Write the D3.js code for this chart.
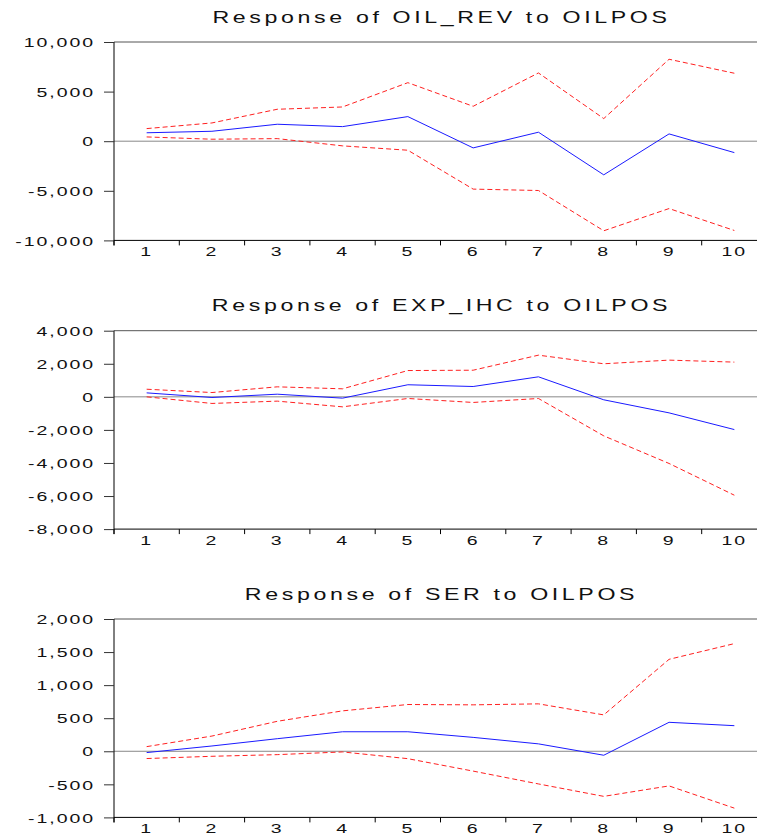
<!DOCTYPE html>
<html>
<head>
<meta charset="utf-8">
<script src="https://cdn.jsdelivr.net/npm/d3@7"></script>
<style>
  body { margin: 0; background: #fff; }
  svg { display: block; }
</style>
</head>
<body>
<div id="viz"></div>
<script>
// impulse responses, periods 1..10
var periods = [1, 2, 3, 4, 5, 6, 7, 8, 9, 10];

var titles = ["Response of OIL_REV to OILPOS", "Response of EXP_IHC to OILPOS", "Response of SER to OILPOS"];

var oilRev = [850, 1000, 1710, 1470, 2480, -675, 906, -3390, 735, -1150];
var oilRevUp = [1270, 1840, 3220, 3450, 5900, 3520, 6880, 2280, 8260, 6850];
var oilRevLo = [430, 200, 260, -470, -910, -4830, -4970, -9030, -6790, -9000];

var expIhc = [240, -40, 160, -80, 730, 625, 1210, -180, -970, -1980];
var expIhcUp = [460, 260, 605, 485, 1590, 1610, 2520, 2000, 2220, 2100];
var expIhcLo = [0, -400, -260, -605, -100, -340, -100, -2360, -4030, -5950];

var ser = [-20, 80, 190, 295, 295, 210, 112, -60, 438, 387];
var serUp = [70, 230, 453, 611, 707, 702, 717, 550, 1390, 1628];
var serLo = [-110, -76, -51, -10, -112, -300, -494, -682, -524, -860];

var yTicks1 = [-10000, -5000, 0, 5000, 10000];
var yTicks2 = [-8000, -6000, -4000, -2000, 0, 2000, 4000];
var yTicks3 = [-1000, -500, 0, 500, 1000, 1500, 2000];

var panels = [
    {title: titles[0], mid: oilRev, up: oilRevUp, lo: oilRevLo, ticks: yTicks1, top: 42},
    {title: titles[1], mid: expIhc, up: expIhcUp, lo: expIhcLo, ticks: yTicks2, top: 330.7},
    {title: titles[2], mid: ser, up: serUp, lo: serLo, ticks: yTicks3, top: 619}
];

var width = 757, height = 836;
var left = 114, right = 767, ph = 198.4;
var font = "'Liberation Sans', Arial, Helvetica, sans-serif";
var sx = 1.5; // the picture is stretched sideways

var svg = d3.select("#viz")
    .append("svg")
    .attr("width", width)
    .attr("height", height);

var fmt = function(d){ return d3.format(",")(d).replace("\u2212", "-"); };

var x = d3.scaleBand()
    .domain(periods)
    .range([left, right]);

function cx(d){ return x(d) + x.bandwidth() / 2; }

panels.forEach(function(p){
    var y = d3.scaleLinear()
        .domain([d3.min(p.ticks), d3.max(p.ticks)])
        .range([p.top + ph, p.top]);

    var g = svg.append("g");

    // title
    g.append("text")
        .attr("transform", "translate(" + ((left + right) / 2 + 1) + "," + (p.top - 19.5) + ") scale(1.45,1)")
        .attr("text-anchor", "middle")
        .attr("font-family", font)
        .attr("font-size", 16)
        .attr("letter-spacing", 2.5)
        .attr("fill", "#111")
        .text(p.title);

    // top border
    g.append("line")
        .attr("x1", left).attr("x2", right)
        .attr("y1", p.top).attr("y2", p.top)
        .attr("stroke", "#555");

    // zero line
    g.append("line")
        .attr("x1", left).attr("x2", right)
        .attr("y1", y(0)).attr("y2", y(0))
        .attr("stroke", "#888");

    // y axis
    var ya = g.append("g")
        .attr("transform", "translate(" + left + ",0)")
        .call(d3.axisLeft(y).tickValues(p.ticks).tickFormat(fmt).tickSize(10).tickPadding(0));
    ya.select(".domain").attr("stroke", "#000").attr("d", "M0," + (p.top + ph + 5) + "V" + p.top);
    ya.selectAll(".tick line").attr("stroke", "#333");
    ya.selectAll(".tick text")
        .attr("x", null)
        .attr("dy", "0.36em")
        .attr("transform", "translate(-19,0) scale(" + sx + ",1)")
        .attr("letter-spacing", 1.3)
        .attr("font-family", font)
        .attr("font-size", 13)
        .attr("fill", "#111");

    // x axis labels
    var xa = g.append("g")
        .attr("transform", "translate(0," + (p.top + ph) + ")")
        .call(d3.axisBottom(x).tickSize(0).tickPadding(0));
    xa.select(".domain").attr("stroke", "#000").attr("d", "M" + left + ",0H" + right);
    xa.selectAll(".tick text")
        .attr("y", null)
        .attr("dy", null)
        .attr("transform", "translate(0,16) scale(" + sx + ",1)")
        .attr("letter-spacing", 1.3)
        .attr("font-family", font)
        .attr("font-size", 13)
        .attr("fill", "#111");

    // x ticks sit between periods
    g.selectAll("line.xt")
        .data(periods)
        .enter()
        .append("line")
        .attr("class", "xt")
        .attr("x1", function(d){ return x(d); })
        .attr("x2", function(d){ return x(d); })
        .attr("y1", p.top + ph)
        .attr("y2", p.top + ph + 5)
        .attr("stroke", "#000");

    var line = d3.line()
        .x(function(d, i){ return cx(periods[i]); })
        .y(function(d){ return y(d); });

    g.append("path")
        .attr("d", line(p.up))
        .attr("fill", "none")
        .attr("stroke", "#ff2020")
        .attr("stroke-dasharray", "5,3");
    g.append("path")
        .attr("d", line(p.lo))
        .attr("fill", "none")
        .attr("stroke", "#ff2020")
        .attr("stroke-dasharray", "5,3");
    g.append("path")
        .attr("d", line(p.mid))
        .attr("fill", "none")
        .attr("stroke", "#1a1aff");
});
</script>
</body>
</html>
